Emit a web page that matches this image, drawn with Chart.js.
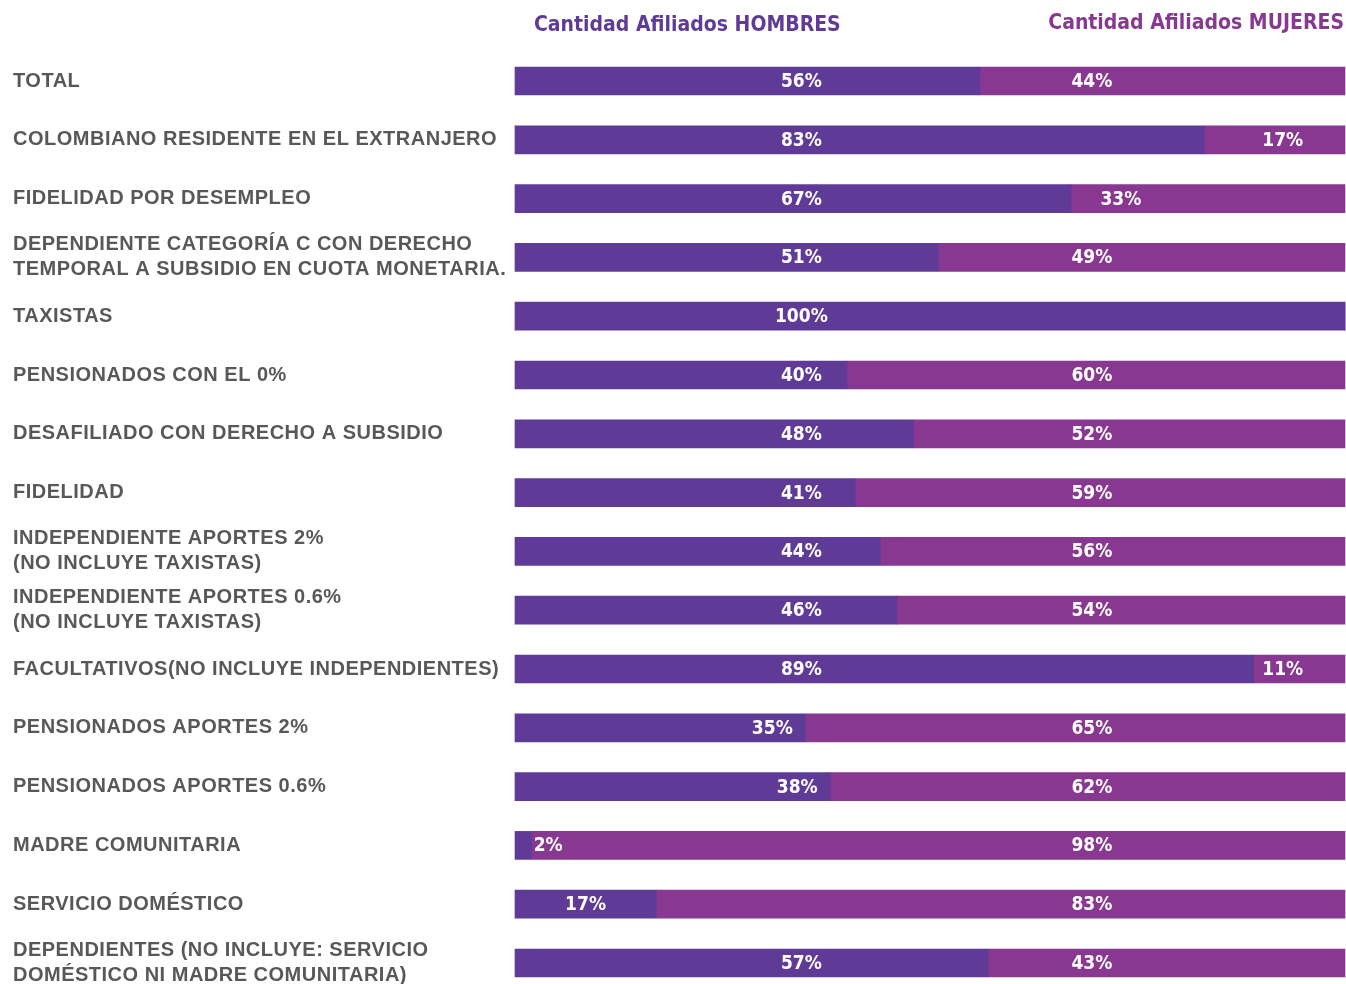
<!DOCTYPE html>
<html>
<head>
<meta charset="utf-8">
<script src="https://cdn.jsdelivr.net/npm/chart.js@4"></script>
<style>
  html, body { margin: 0; padding: 0; background: #fff; overflow: hidden; }
  #wrap { position: relative; width: 1346px; height: 984px; }
</style>
</head>
<body>
<div id="wrap"><canvas id="afiliados"></canvas></div>
<script>
// categorias de afiliacion
const categorias = [
  "TOTAL",
  "COLOMBIANO RESIDENTE EN EL EXTRANJERO",
  "FIDELIDAD POR DESEMPLEO",
  ["DEPENDIENTE CATEGORÍA C CON DERECHO", "TEMPORAL A SUBSIDIO EN CUOTA MONETARIA."],
  "TAXISTAS",
  "PENSIONADOS CON EL 0%",
  "DESAFILIADO CON DERECHO A SUBSIDIO",
  "FIDELIDAD",
  ["INDEPENDIENTE APORTES 2%", "(NO INCLUYE TAXISTAS)"],
  ["INDEPENDIENTE APORTES 0.6%", "(NO INCLUYE TAXISTAS)"],
  "FACULTATIVOS(NO INCLUYE INDEPENDIENTES)",
  "PENSIONADOS APORTES 2%",
  "PENSIONADOS APORTES 0.6%",
  "MADRE COMUNITARIA",
  "SERVICIO DOMÉSTICO",
  ["DEPENDIENTES (NO INCLUYE: SERVICIO", "DOMÉSTICO NI MADRE COMUNITARIA)"]
];

// porcentajes por sexo
const hombres = [56, 83, 67, 51, 100, 40, 48, 41, 44, 46, 89, 35, 38, 2, 17, 57];
const mujeres = [44, 17, 33, 49, 0, 60, 52, 59, 56, 54, 11, 65, 62, 98, 83, 43];

const colorHombres = "#5f3b97";
const colorMujeres = "#883891";

// where to put the % text inside each segment (in axis units)
function posHombres(v) {
  if (v < 20) return Math.max(v / 2, 4);
  return Math.min(34.5, v - 4);
}
function posMujeres(v, h) {
  if (h > 75) return 92.5;
  return Math.max(69.5, h + 6);
}

const etiquetas = {
  id: "etiquetas",
  beforeDraw(chart) {
    // the category labels in the original are set a little wider
    chart.ctx.letterSpacing = "0.5px";
  },
  afterDatasetsDraw(chart) {
    const ctx = chart.ctx;
    const x = chart.scales.x;
    ctx.save();
    ctx.letterSpacing = "0px";
    ctx.fillStyle = "#ffffff";
    ctx.font = "bold 19px 'DejaVu Sans Condensed', 'DejaVu Sans', sans-serif";
    ctx.textAlign = "center";
    ctx.textBaseline = "middle";
    chart.getDatasetMeta(0).data.forEach((bar, i) => {
      const v = hombres[i];
      if (v > 0) ctx.fillText(v + "%", x.getPixelForValue(posHombres(v)), bar.y + 1);
    });
    chart.getDatasetMeta(1).data.forEach((bar, i) => {
      const v = mujeres[i];
      if (v > 0) ctx.fillText(v + "%", x.getPixelForValue(posMujeres(v, hombres[i])), bar.y + 1);
    });

    // encabezados
    ctx.font = "bold 21px 'DejaVu Sans Condensed', 'DejaVu Sans', sans-serif";
    ctx.textBaseline = "alphabetic";
    ctx.textAlign = "left";
    ctx.fillStyle = colorHombres;
    ctx.fillText("Cantidad Afiliados HOMBRES", 534, 31);
    ctx.textAlign = "right";
    ctx.fillStyle = colorMujeres;
    ctx.fillText("Cantidad Afiliados MUJERES", 1344, 29);
    ctx.restore();
  }
};

new Chart("afiliados", {
  type: "bar",
  data: {
    labels: categorias,
    datasets: [
      {
        label: "Cantidad Afiliados HOMBRES",
        data: hombres,
        backgroundColor: colorHombres,
        barThickness: 28,
        borderWidth: 0,
        clip: false
      },
      {
        label: "Cantidad Afiliados MUJERES",
        data: mujeres,
        backgroundColor: colorMujeres,
        barThickness: 28,
        borderWidth: 0,
        clip: false
      }
    ]
  },
  options: {
    indexAxis: "y",
    responsive: true,
    maintainAspectRatio: false,
    animation: false,
    events: [],
    layout: { padding: { top: 81, bottom: 21, left: 13, right: 1 } },
    plugins: {
      legend: { display: false },
      tooltip: { enabled: false }
    },
    scales: {
      x: {
        stacked: true,
        min: 0,
        max: 100,
        display: false
      },
      y: {
        stacked: true,
        offset: false,
        grid: { display: false },
        border: { display: false },
        ticks: {
          crossAlign: "far",
          color: "#58585a",
          autoSkip: false,
          font: { family: "'Liberation Sans', Arial, sans-serif", size: 20, weight: "bold", lineHeight: 1.25 }
        },
        afterFit(scale) {
          scale.width = 502;
          scale.paddingTop = 0;
          scale.paddingBottom = 0;
        }
      }
    }
  },
  plugins: [etiquetas]
});
</script>
</body>
</html>
